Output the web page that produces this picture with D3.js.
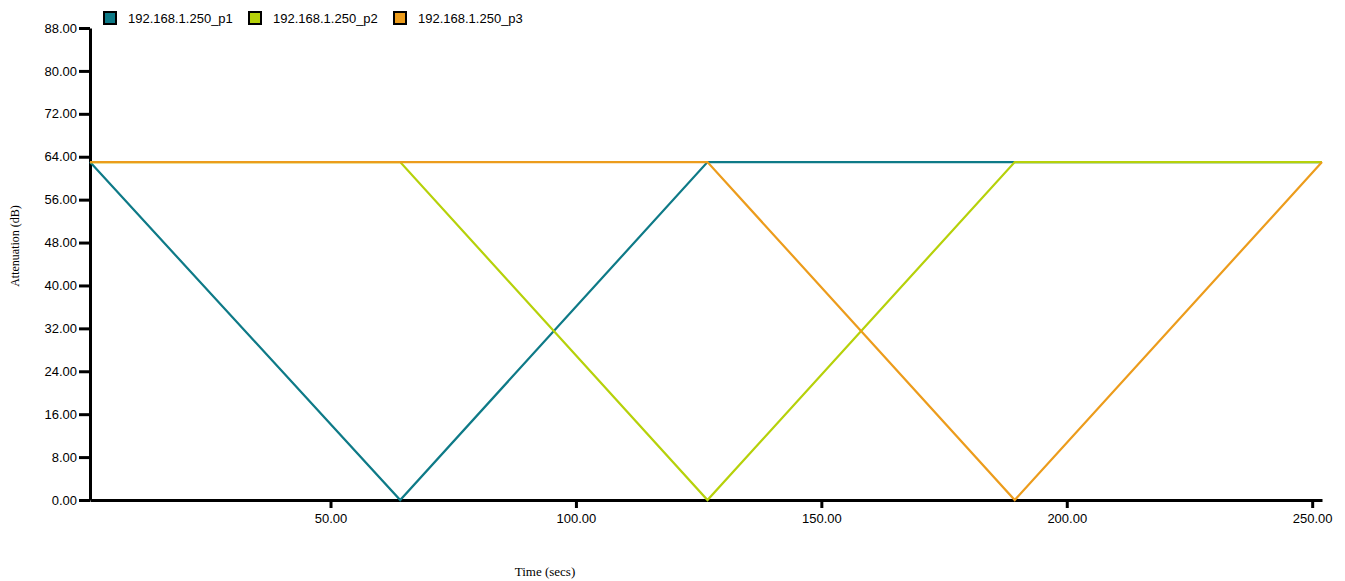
<!DOCTYPE html>
<html>
<head>
<meta charset="utf-8">
<script src="https://cdnjs.cloudflare.com/ajax/libs/d3/7.8.5/d3.min.js"></script>
<style>
  body { margin: 0; background: #fff; }
  .tick text { font-family: "Liberation Sans", Arial, sans-serif; font-size: 13px; fill: #000; }
  .axisText { font-family: "Liberation Serif", "Times New Roman", serif; font-size: 12px; }
  .legendText { font-family: "Liberation Sans", Arial, sans-serif; font-size: 13px; }
</style>
</head>
<body>
<div id="chart"></div>
<script>
var svgWidth = 1345;
var svgHeight = 581;

var margin = { top: 28, right: 23, bottom: 81, left: 90 };
var width = svgWidth - margin.left - margin.right;
var height = svgHeight - margin.top - margin.bottom;

// data: vertex times (secs) and attenuation (dB)
var seriesNames = ["192.168.1.250_p1", "192.168.1.250_p2", "192.168.1.250_p3"];
var seriesColors = ["#0e7a87", "#b6d10a", "#ec9c1c"];
var p1Time = [1, 64.2, 126.8, 252];
var p1Atten = [63, 0, 63, 63];
var p2Time = [1, 64.2, 126.8, 189.4, 252];
var p2Atten = [63, 63, 0, 63, 63];
var p3Time = [1, 126.8, 189.4, 252];
var p3Atten = [63, 63, 0, 63];
var xDomain = [1, 252];
var yDomain = [0, 88];
var xTicks = [50, 100, 150, 200, 250];
var yTicks = [0, 8, 16, 24, 32, 40, 48, 56, 64, 72, 80, 88];

var allSeries = [
  { name: seriesNames[0], color: seriesColors[0], time: p1Time, atten: p1Atten },
  { name: seriesNames[1], color: seriesColors[1], time: p2Time, atten: p2Atten },
  { name: seriesNames[2], color: seriesColors[2], time: p3Time, atten: p3Atten }
];

var svg = d3.select("#chart")
  .append("svg")
  .attr("width", svgWidth)
  .attr("height", svgHeight);

var chartGroup = svg.append("g")
  .attr("transform", `translate(${margin.left}, ${margin.top})`);

// scales
var xLinearScale = d3.scaleLinear().domain(xDomain).range([0, width]);
var yLinearScale = d3.scaleLinear().domain(yDomain).range([height, 0]);

// axes
var bottomAxis = d3.axisBottom(xLinearScale)
  .tickValues(xTicks)
  .tickFormat(d3.format(".2f"))
  .tickSizeInner(8)
  .tickSizeOuter(0)
  .tickPadding(6);

var leftAxis = d3.axisLeft(yLinearScale)
  .tickValues(yTicks)
  .tickFormat(d3.format(".2f"))
  .tickSizeInner(11)
  .tickSizeOuter(0)
  .tickPadding(2);

var xAxisG = chartGroup.append("g")
  .attr("transform", `translate(0, ${height})`)
  .call(bottomAxis);

var yAxisG = chartGroup.append("g")
  .call(leftAxis);

[xAxisG, yAxisG].forEach(function(g) {
  g.select(".domain").attr("stroke", "#000").attr("stroke-width", 3);
  g.selectAll(".tick line").attr("stroke", "#000").attr("stroke-width", 3);
});

// lines
var line = d3.line()
  .x(d => xLinearScale(d[0]))
  .y(d => yLinearScale(d[1]));

allSeries.forEach(function(s) {
  var pts = s.time.map((t, i) => [t, s.atten[i]]);
  chartGroup.append("path")
    .datum(pts)
    .attr("fill", "none")
    .attr("stroke", s.color)
    .attr("stroke-width", 2.2)
    .attr("d", line);
});

// axis labels
chartGroup.append("text")
  .attr("transform", "rotate(-90)")
  .attr("x", 0 - 218)
  .attr("y", 0 - margin.left + 19)
  .attr("text-anchor", "middle")
  .attr("class", "axisText")
  .text("Attenuation (dB)");

chartGroup.append("text")
  .attr("x", 545 - margin.left)
  .attr("y", height + 76)
  .attr("text-anchor", "middle")
  .attr("class", "axisText")
  .style("font-size", "13px")
  .text("Time (secs)");

// legend
var legend = svg.append("g")
  .attr("transform", "translate(104, 12)");

var items = legend.selectAll("g")
  .data(allSeries)
  .enter()
  .append("g")
  .attr("transform", (d, i) => `translate(${i * 145}, 0)`);

items.append("rect")
  .attr("width", 12)
  .attr("height", 12)
  .attr("fill", d => d.color)
  .attr("stroke", "#000")
  .attr("stroke-width", 2);

items.append("text")
  .attr("x", 24)
  .attr("y", 11)
  .attr("class", "legendText")
  .text(d => d.name);
</script>
</body>
</html>
